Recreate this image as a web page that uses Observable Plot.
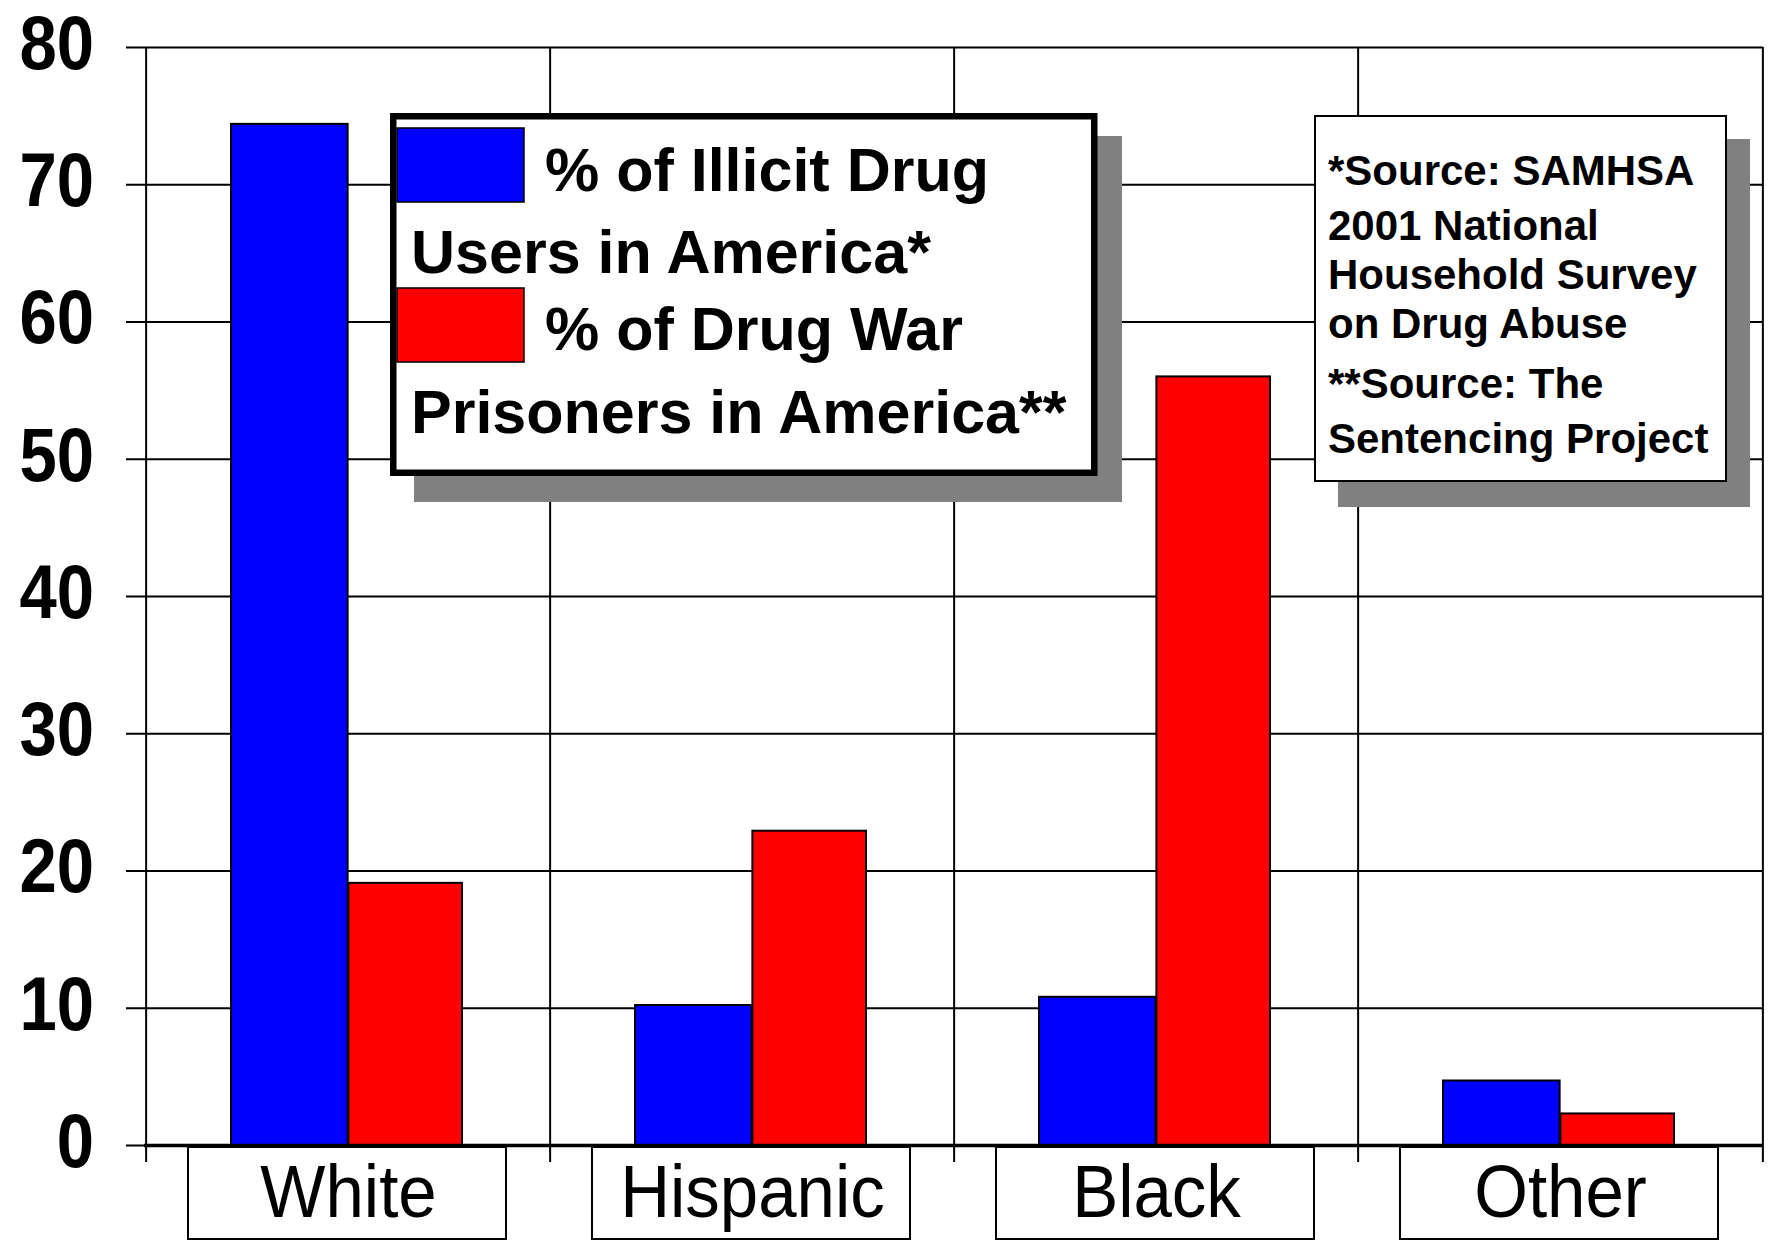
<!DOCTYPE html>
<html>
<head>
<meta charset="utf-8">
<script src="https://cdn.jsdelivr.net/npm/d3@7"></script>
<script src="https://cdn.jsdelivr.net/npm/@observablehq/plot@0.6"></script>
<style>
  html, body { margin: 0; padding: 0; background: #ffffff; }
  #chart { width: 1769px; height: 1240px; overflow: hidden; }
</style>
</head>
<body>
<div id="chart"></div>
<script>
// ---- data ----
const categories = ["White", "Hispanic", "Black", "Other"];
const usersPct = [74.4, 10.2, 10.8, 4.7];        // % of Illicit Drug Users in America*
const prisonersPct = [19.1, 22.9, 56.0, 2.3];    // % of Drug War Prisoners in America**
const yTicks = [0, 10, 20, 30, 40, 50, 60, 70, 80];
const seriesNames = ["% of Illicit Drug Users in America*", "% of Drug War Prisoners in America**"];
const legendLines = [["% of Illicit Drug", "Users in America*"], ["% of Drug War", "Prisoners in America**"]];
const seriesColors = ["#0000ff", "#ff0000"];
const sourceLines = ["*Source: SAMHSA", "2001 National", "Household Survey", "on Drug Abuse", "**Source: The", "Sentencing Project"];

const users = categories.map((c, i) => ({category: c, value: usersPct[i]}));
const prisoners = categories.map((c, i) => ({category: c, value: prisonersPct[i]}));

// ---- layout ----
const W = 1769, H = 1240, mL = 144, mR = 6, mT = 47, mB = 95;
const bw = (W - mL - mR) / categories.length;
const sans = "'Liberation Sans', Arial, Helvetica, sans-serif";

const chart = Plot.plot({
  width: W,
  height: H,
  marginLeft: mL,
  marginRight: mR,
  marginTop: mT,
  marginBottom: mB,
  style: {background: "#ffffff", color: "black", fontFamily: sans},
  x: {type: "band", domain: categories, padding: 0, axis: null},
  y: {domain: [0, 80], axis: null},
  marks: [
    // horizontal gridlines with left tick extension
    Plot.ruleY(yTicks, {y: d => d, stroke: "black", strokeWidth: 2, insetLeft: -18}),
    // vertical category separators (extend below baseline)
    Plot.ruleX(categories, {x: d => d, dx: -bw / 2, y1: () => 80, y2: () => 0, stroke: "black", strokeWidth: 2, insetBottom: -17}),
    Plot.ruleX(categories.slice(-1), {x: d => d, dx: bw / 2, y1: () => 80, y2: () => 0, stroke: "black", strokeWidth: 2, insetBottom: -17}),
    // y tick labels
    Plot.text(yTicks, {
      x: () => categories[0], y: d => d, text: d => String(d),
      dx: -bw / 2 - 52, dy: -3, textAnchor: "end",
      fontSize: 76, fontWeight: "bold", fontFamily: sans, fill: "black"
    }),
    // bars
    Plot.barY(users, {x: "category", y1: () => 0, y2: "value", fill: seriesColors[0], stroke: "black", strokeWidth: 2,
      insetLeft: 85, insetRight: bw / 2, title: d => `${seriesNames[0]}: ${d.value}`}),
    Plot.barY(prisoners, {x: "category", y1: () => 0, y2: "value", fill: seriesColors[1], stroke: "black", strokeWidth: 2,
      insetLeft: bw / 2, insetRight: 88, title: d => `${seriesNames[1]}: ${d.value}`}),
    // baseline
    Plot.ruleY([0], {stroke: "black", strokeWidth: 3.5}),
    // category label boxes
    Plot.barY(categories, {x: d => d, y1: () => 0, y2: () => 0, insetLeft: 42, insetRight: 44, insetTop: 2, insetBottom: -94,
      fill: "white", stroke: "black", strokeWidth: 2}),
    Plot.text(categories, {x: d => d, y: () => 0, text: d => d, dy: 48, lineAnchor: "middle",
      fontSize: 74, fontFamily: sans, fill: "black"})
  ]
});

document.getElementById("chart").appendChild(chart);

// condense tall labels horizontally (the original uses a tall, narrow face)
const ctx = document.createElement("canvas").getContext("2d");
const yTickStrings = new Set(yTicks.map(String));
const catStrings = new Set(categories);
d3.select(chart).selectAll("text").each(function () {
  const t = this.textContent;
  let font = null;
  if (yTickStrings.has(t)) font = "bold 67px 'Liberation Sans'";
  else if (catStrings.has(t)) font = "69px 'Liberation Sans'";
  if (!font) return;
  ctx.font = font;
  const w = ctx.measureText(t).width;
  d3.select(this).attr("textLength", w).attr("lengthAdjust", "spacingAndGlyphs");
});

// ---- legend & source annotation (drawn on top of the plot) ----
const svg = d3.select(chart);
const lg = svg.append("g").attr("class", "legend").attr("text-anchor", "start");
lg.append("rect").attr("x", 414).attr("y", 136).attr("width", 708).attr("height", 366).attr("fill", "#808080");
lg.append("rect").attr("x", 393.25).attr("y", 116.25).attr("width", 701).attr("height", 356.5)
  .attr("fill", "white").attr("stroke", "black").attr("stroke-width", 6.5);
const swatchY = [128, 288];
const textY = [[191, 273], [350, 433]];
seriesColors.forEach((col, i) => {
  lg.append("rect").attr("x", 397).attr("y", swatchY[i]).attr("width", 127).attr("height", 74)
    .attr("fill", col).attr("stroke", "black").attr("stroke-width", 1.5);
  lg.append("text").attr("x", 545).attr("y", textY[i][0]).text(legendLines[i][0]);
  lg.append("text").attr("x", 411).attr("y", textY[i][1]).text(legendLines[i][1]);
});
lg.selectAll("text").attr("font-family", sans).attr("font-size", 61).attr("font-weight", "bold")
  .attr("fill", "black").attr("text-anchor", "start");

const sg = svg.append("g").attr("class", "sources").attr("text-anchor", "start");
sg.append("rect").attr("x", 1338).attr("y", 139).attr("width", 412).attr("height", 368).attr("fill", "#808080");
sg.append("rect").attr("x", 1315).attr("y", 116).attr("width", 411).attr("height", 365)
  .attr("fill", "white").attr("stroke", "black").attr("stroke-width", 2);
const srcY = [185, 240, 289, 338, 398, 453];
sourceLines.forEach((t, i) => {
  sg.append("text").attr("x", 1328).attr("y", srcY[i]).text(t);
});
sg.selectAll("text").attr("font-family", sans).attr("font-size", 42).attr("font-weight", "bold")
  .attr("fill", "black").attr("text-anchor", "start");
</script>
</body>
</html>
